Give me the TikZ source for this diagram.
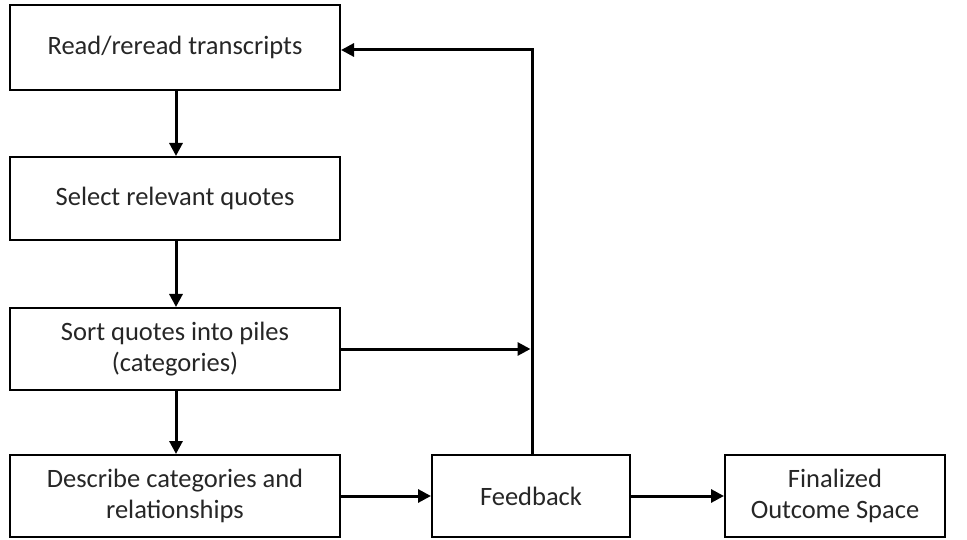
\documentclass[tikz,border=0pt]{standalone}
\usepackage{fontspec}
\setmainfont{Carlito}
\usetikzlibrary{arrows.meta}
\begin{document}
\begin{tikzpicture}[x=1pt,y=-1pt,
  box/.style={draw=black,line width=2pt,inner sep=0pt,align=center,font=\fontsize{26.5}{31}\selectfont,text=black!85},
  conn/.style={line width=3pt,-{Triangle[length=13pt,width=13pt]}}]
\useasboundingbox (0,0) rectangle (967,540);
\node[box,minimum width=330pt,minimum height=85pt] (b1) at (175,47.5) {Read/reread transcripts};
\node[box,minimum width=330pt,minimum height=83pt] (b2) at (175,198.5) {Select relevant quotes};
\node[box,minimum width=330pt,minimum height=82pt] (b3) at (175,349) {Sort quotes into piles\\(categories)};
\node[box,minimum width=330pt,minimum height=82pt] (b4) at (175,496) {Describe categories and\\relationships};
\node[box,minimum width=198pt,minimum height=82pt] (fb) at (531,496) {Feedback};
\node[box,minimum width=220pt,minimum height=82pt] (fin) at (835,496) {Finalized\\Outcome Space};
\coordinate (corner) at (532,50);
\coordinate (join) at (532,349);
\draw[conn] (b1.south -| 176,0) -- (b2.north -| 176,0);
\draw[conn] (b2.south -| 176,0) -- (b3.north -| 176,0);
\draw[conn] (b3.south -| 176,0) -- (b4.north -| 176,0);
\draw[conn] (b4.east) -- (fb.west);
\draw[conn] (fb.east) -- (fin.west);
\draw[conn] (fb.north -| corner) -- (corner) -- (b1.east |- corner);
\draw[conn] (b3.east) -- ([xshift=-1.5pt]join);
\end{tikzpicture}
\end{document}
